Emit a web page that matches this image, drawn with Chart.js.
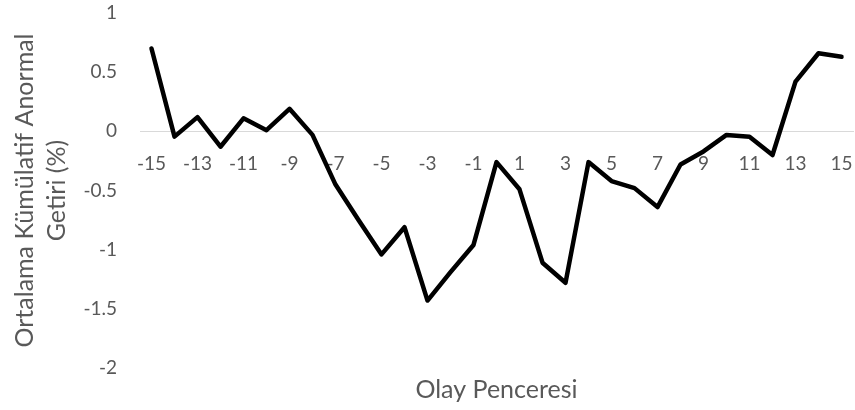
<!DOCTYPE html>
<html>
<head>
<meta charset="utf-8">
<script src="https://cdn.jsdelivr.net/npm/chart.js@4"></script>
<style>
  html, body { margin: 0; padding: 0; background: #fff; }
  #wrap { width: 855px; height: 410px; }
</style>
</head>
<body>
<div id="wrap"><canvas id="grafica"></canvas></div>
<script>
// olay penceresi (gün) ve ortalama kümülatif anormal getiri (%)
const gunler = [-15, -14, -13, -12, -11, -10, -9, -8, -7, -6, -5, -4, -3, -2, -1, 0,
                1, 2, 3, 4, 5, 6, 7, 8, 9, 10, 11, 12, 13, 14, 15];
const kaar = [0.70, -0.045, 0.12, -0.13, 0.11, 0.01, 0.19, -0.03, -0.45, -0.75, -1.04, -0.81, -1.43, -1.19, -0.96, -0.26,
              -0.49, -1.11, -1.28, -0.26, -0.42, -0.48, -0.64, -0.28, -0.17, -0.03, -0.045, -0.20, 0.42, 0.66, 0.63];
const yTickMin = -2;
const yTickMax = 1;
const yTickStep = 0.5;

const gri = '#595959';
const yazi = 'Lato, "Open Sans", sans-serif';

let ctx = document.getElementById('grafica').getContext('2d');
new Chart(ctx, {
    type: 'line',
    data: {
        labels: gunler,
        datasets: [{
            data: kaar,
            borderColor: '#000000',
            borderWidth: 4.5,
            pointRadius: 0,
            tension: 0,
            fill: false,
            borderJoinStyle: 'round',
            borderCapStyle: 'round'
        }]
    },
    options: {
        responsive: true,
        maintainAspectRatio: false,
        animation: false,
        layout: { padding: { top: 13, right: 2, left: 4, bottom: 3 } },
        plugins: {
            legend: { display: false },
            tooltip: { enabled: false },
            title: {
                display: true,
                position: 'bottom',
                fullSize: false, // çizim alanına göre ortala
                text: 'Olay Penceresi',
                color: gri,
                font: { family: yazi, size: 25, weight: 'normal' },
                padding: { top: 7, bottom: 2 }
            }
        },
        scales: {
            x: {
                type: 'category',
                position: { y: 0 },
                offset: true,
                // eksen sıfır çizgisinde, yer kaplamasın
                afterFit: s => { s.height = 0; s.paddingLeft = 0; s.paddingRight = 0; },
                grid: { display: false, drawTicks: false },
                border: { display: true, color: '#d9d9d9', width: 1 },
                ticks: {
                    autoSkip: false,
                    maxRotation: 0,
                    padding: 21,
                    color: gri,
                    font: { family: yazi, size: 19 },
                    callback: function (val, i) { return i % 2 === 0 ? this.getLabelForValue(val) : ''; }
                }
            },
            y: {
                min: yTickMin,
                max: yTickMax,
                afterFit: s => { s.width = 136; s.paddingTop = 0; s.paddingBottom = 0; },
                grid: { display: false, drawTicks: false },
                border: { display: false },
                ticks: {
                    stepSize: yTickStep,
                    padding: 23,
                    color: gri,
                    font: { family: yazi, size: 19 },
                    callback: v => String(v)
                },
                title: {
                    display: true,
                    text: ['Ortalama Kümülatif Anormal', 'Getiri (%)'],
                    color: gri,
                    font: { family: yazi, size: 25, weight: 'normal', lineHeight: 1.28 },
                    padding: { top: 5, bottom: 0 }
                }
            }
        }
    }
});
</script>
</body>
</html>
